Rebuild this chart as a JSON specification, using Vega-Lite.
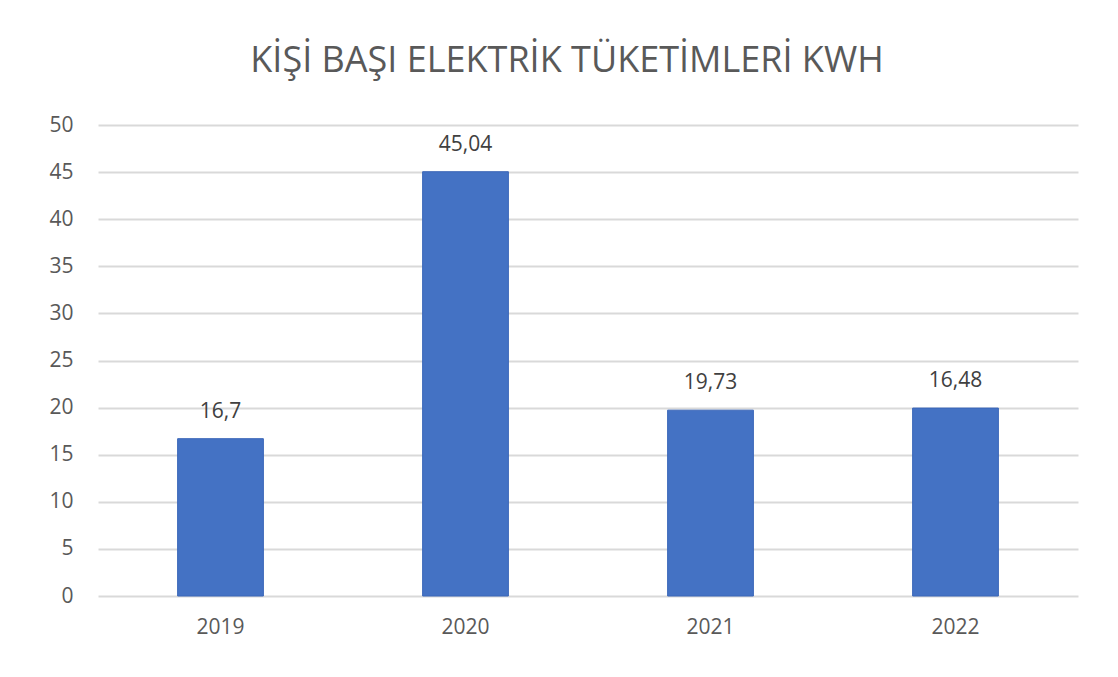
{
  "$schema": "https://vega.github.io/schema/vega-lite/v6.json",
  "width": 980,
  "height": 471,
  "autosize": {"type": "none"},
  "padding": {"left": 98, "top": 125, "right": 40, "bottom": 81},
  "background": "#ffffff",
  "title": {
    "text": "KİŞİ BAŞI ELEKTRİK TÜKETİMLERİ KWH",
    "font": "Open Sans",
    "fontSize": 36,
    "fontWeight": "normal",
    "color": "#595959",
    "anchor": "middle",
    "frame": "group",
    "dx": -21,
    "offset": 34
  },
  "data": {
    "values": [
      {"year": "2019", "value": 16.7, "label": "16,7"},
      {"year": "2020", "value": 45.04, "label": "45,04"},
      {"year": "2021", "value": 19.73, "label": "19,73"},
      {"year": "2022", "value": 19.95, "label": "16,48"}
    ]
  },
  "config": {
    "view": {"stroke": null},
    "font": "Open Sans"
  },
  "encoding": {
    "x": {
      "field": "year",
      "type": "nominal",
      "sort": null,
      "scale": {"paddingInner": 0.65, "paddingOuter": 0.325},
      "axis": {
        "title": null,
        "labelAngle": 0,
        "labelFontSize": 21,
        "labelColor": "#595959",
        "labelFont": "Open Sans",
        "labelPadding": 20,
        "domain": false,
        "ticks": false,
        "grid": false
      }
    },
    "y": {
      "field": "value",
      "type": "quantitative",
      "scale": {"domain": [0, 50], "nice": false},
      "axis": {
        "title": null,
        "values": [0, 5, 10, 15, 20, 25, 30, 35, 40, 45, 50],
        "labelFontSize": 21,
        "labelColor": "#595959",
        "labelFont": "Open Sans",
        "labelPadding": 25,
        "domain": false,
        "ticks": false,
        "grid": true,
        "gridColor": "#d9d9d9",
        "gridWidth": 2
      }
    }
  },
  "layer": [
    {
      "mark": {"type": "bar", "color": "#4472c4", "stroke": "#3a66b8", "strokeWidth": 1}
    },
    {
      "mark": {"type": "text", "baseline": "alphabetic", "dy": -21, "fontSize": 21, "color": "#404040", "font": "Open Sans"},
      "encoding": {"text": {"field": "label", "type": "nominal"}}
    }
  ]
}
